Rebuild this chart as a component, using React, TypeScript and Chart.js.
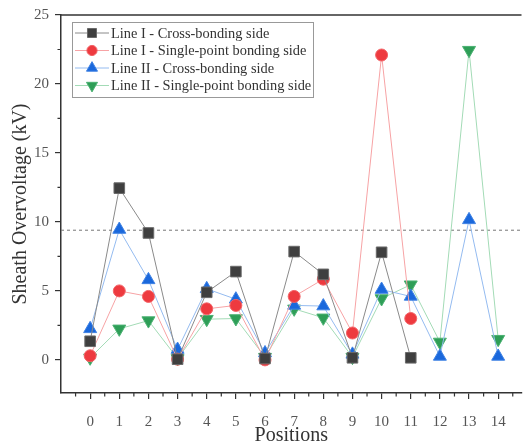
import React, { useEffect, useRef } from "react";
import { Chart, registerables } from "chart.js";

Chart.register(...registerables);

const POSITIONS = [0, 1, 2, 3, 4, 5, 6, 7, 8, 9, 10, 11, 12, 13, 14];
const Y_TICKS = [0, 5, 10, 15, 20, 25];
const THRESHOLD = 9.4;

const LINE1_CROSS = [1.35, 12.45, 9.2, 0.05, 4.9, 6.4, 0.1, 7.85, 6.2, 0.15, 7.8, 0.15];
const LINE1_SINGLE = [0.3, 5.0, 4.6, 0.05, 3.7, 3.95, 0.0, 4.6, 5.85, 1.95, 22.1, 3.0];
const LINE2_CROSS = [2.25, 9.45, 5.8, 0.75, 5.15, 4.4, 0.5, 3.95, 3.9, 0.4, 5.1, 4.6, 0.25, 10.15, 0.25];
const LINE2_SINGLE = [0.15, 2.25, 2.85, 0.1, 2.95, 3.0, 0.2, 3.7, 3.05, 0.2, 4.45, 5.45, 1.3, 22.45, 1.5];

const SERIES_NAMES = [
  "Line I - Cross-bonding side",
  "Line I - Single-point bonding side",
  "Line II - Cross-bonding side",
  "Line II - Single-point bonding side",
];

const FONT = "'Liberation Serif', 'Times New Roman', serif";

const toXY = (vals: number[]) => vals.map((v, i) => ({ x: POSITIONS[i], y: v }));

export default function App() {
  const ref = useRef<HTMLCanvasElement | null>(null);

  useEffect(() => {
    document.body.style.margin = "0";
    const canvas = ref.current!;
    const styles = [
      { marker: "#3f3f3f", border: "#6a6a6a", line: "#8a8a8a", shape: "rect", radius: 7.5, rot: 0 },
      { marker: "#ee3a3f", border: "#f26367", line: "#f7a3a5", shape: "circle", radius: 6, rot: 0 },
      { marker: "#1a68dc", border: "#3f82e4", line: "#94bbf0", shape: "triangle", radius: 7.5, rot: 0 },
      { marker: "#2e9e57", border: "#4bb172", line: "#a3dbb6", shape: "triangle", radius: 7.5, rot: 180 },
    ];
    const allData = [LINE1_CROSS, LINE1_SINGLE, LINE2_CROSS, LINE2_SINGLE];

    function drawMarker(ctx: CanvasRenderingContext2D, shape: string, x: number, y: number, r: number, rot: number) {
      ctx.beginPath();
      if (shape === "rect") {
        const s = Math.SQRT1_2 * r;
        ctx.rect(x - s, y - s, 2 * s, 2 * s);
      } else if (shape === "circle") {
        ctx.arc(x, y, r, 0, Math.PI * 2);
      } else {
        const a = rot ? Math.PI : 0;
        for (let k = 0; k < 3; k++) {
          const ang = a - Math.PI / 2 + (k * 2 * Math.PI) / 3;
          const px = x + Math.cos(ang) * r;
          const py = y + Math.sin(ang) * r;
          if (k === 0) ctx.moveTo(px, py);
          else ctx.lineTo(px, py);
        }
        ctx.closePath();
      }
      ctx.fill();
      ctx.stroke();
    }

    const framePlugin = {
      id: "frame",
      beforeDatasetsDraw(chart: any) {
        const { ctx, chartArea } = chart;
        const y = chart.scales.y;
        const py = y.getPixelForValue(THRESHOLD);
        ctx.save();
        ctx.strokeStyle = "#777";
        ctx.lineWidth = 1;
        ctx.setLineDash([3, 3]);
        ctx.beginPath();
        ctx.moveTo(chartArea.left, py);
        ctx.lineTo(chartArea.right, py);
        ctx.stroke();
        ctx.restore();
      },
      afterDraw(chart: any) {
        const { ctx, chartArea } = chart;
        const xs = chart.scales.x;
        const ys = chart.scales.y;
        ctx.save();
        ctx.strokeStyle = "#333";
        ctx.lineWidth = 1.5;
        ctx.beginPath();
        ctx.moveTo(chartArea.left, chartArea.top);
        ctx.lineTo(chartArea.right, chartArea.top);
        ctx.stroke();
        // minor ticks
        ctx.lineWidth = 1.2;
        ctx.beginPath();
        for (let v = -0.5; v <= 14.6; v += 1) {
          const px = xs.getPixelForValue(v);
          ctx.moveTo(px, chartArea.bottom);
          ctx.lineTo(px, chartArea.bottom + 3.5);
        }
        for (let v = 2.5; v < 25; v += 5) {
          const py = ys.getPixelForValue(v);
          ctx.moveTo(chartArea.left, py);
          ctx.lineTo(chartArea.left - 3.5, py);
        }
        ctx.stroke();

        // legend
        const bx = 72, by = 22, bw = 241, bh = 75;
        ctx.strokeStyle = "#999";
        ctx.lineWidth = 1;
        ctx.fillStyle = "#fff";
        ctx.fillRect(bx, by, bw, bh);
        ctx.strokeRect(bx + 0.5, by + 0.5, bw, bh);
        ctx.font = `14.4px ${FONT}`;
        ctx.textBaseline = "middle";
        ctx.textAlign = "left";
        SERIES_NAMES.forEach((name, i) => {
          const st = styles[i];
          const ry = by + 11 + i * 17.5;
          ctx.strokeStyle = st.line;
          ctx.lineWidth = 1;
          ctx.beginPath();
          ctx.moveTo(bx + 3, ry);
          ctx.lineTo(bx + 37, ry);
          ctx.stroke();
          ctx.fillStyle = st.marker;
          ctx.strokeStyle = st.border;
          drawMarker(ctx, st.shape, bx + 20, ry, st.radius * 0.85, st.rot);
          ctx.fillStyle = "#333";
          ctx.fillText(name, bx + 39, ry + 1);
        });
        ctx.restore();
      },
    };

    const chart = new Chart(canvas, {
      type: "line",
      data: {
        datasets: allData.map((d, i) => ({
          label: SERIES_NAMES[i],
          data: toXY(d),
          borderColor: styles[i].line,
          borderWidth: 1,
          backgroundColor: styles[i].marker,
          pointBackgroundColor: styles[i].marker,
          pointBorderColor: styles[i].border,
          pointBorderWidth: 1,
          pointStyle: styles[i].shape as any,
          pointRotation: styles[i].rot,
          pointRadius: styles[i].radius,
          tension: 0,
          fill: false,
        })),
      },
      options: {
        animation: false,
        responsive: false,
        maintainAspectRatio: false,
        layout: { padding: { top: 13, right: 0, left: 0, bottom: 0 } },
        plugins: { legend: { display: false }, tooltip: { enabled: false } },
        scales: {
          x: {
            type: "linear",
            min: -1,
            max: 14.8,
            afterBuildTicks: (s: any) => {
              s.ticks = POSITIONS.map((v) => ({ value: v }));
            },
            afterFit: (s: any) => {
              s.height = 53;
            },
            grid: { drawOnChartArea: false, drawTicks: true, tickLength: 6, color: "#333", lineWidth: 1.2 },
            border: { display: true, color: "#333", width: 1.5 },
            ticks: { color: "#555", font: { family: FONT, size: 15 }, padding: 14, maxRotation: 0, autoSkip: false },
            title: { display: true, text: "Positions", color: "#333", font: { family: FONT, size: 20, lineHeight: 1 }, padding: { top: 0, bottom: 0 } },
          },
          y: {
            type: "linear",
            min: -2.4,
            max: 25,
            afterBuildTicks: (s: any) => {
              s.ticks = Y_TICKS.map((v) => ({ value: v }));
            },
            afterFit: (s: any) => {
              s.width = 61;
            },
            grid: { drawOnChartArea: false, drawTicks: true, tickLength: 6, color: "#333", lineWidth: 1.2 },
            border: { display: true, color: "#333", width: 1.5 },
            ticks: { color: "#555", font: { family: FONT, size: 15 }, padding: 6 },
            title: { display: true, text: "Sheath Overvoltage (kV)", color: "#333", font: { family: FONT, size: 20, lineHeight: 1 }, padding: { top: 11, bottom: 0 } },
          },
        },
      },
      plugins: [framePlugin],
    } as any);
    return () => chart.destroy();
  }, []);

  return (
    <div style={{ position: "absolute", left: 0, top: 0, width: 530, height: 446 }}>
      <canvas ref={ref} width={530} height={446} style={{ width: 530, height: 446, display: "block" }} />
    </div>
  );
}
